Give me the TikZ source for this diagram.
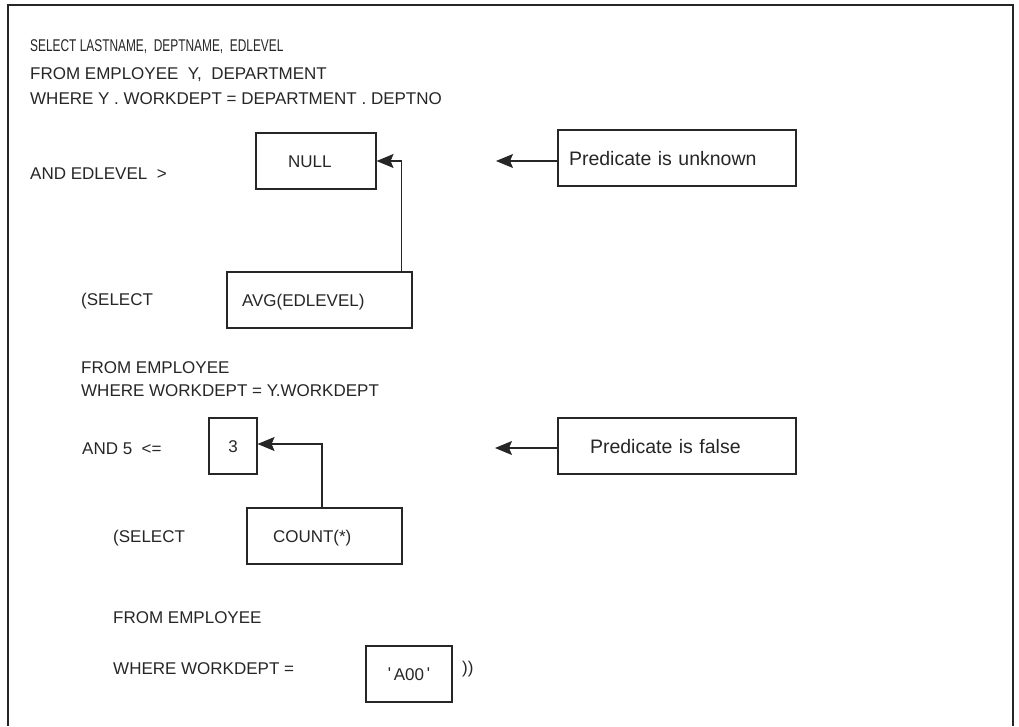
\documentclass[tikz,border=0pt]{standalone}
\usepackage{fontspec}
\setmainfont{Liberation Sans}
\usepackage{graphicx}
\usetikzlibrary{arrows.meta}
\definecolor{ink}{HTML}{262626}
\begin{document}
\begin{tikzpicture}[x=1pt,y=-1pt,
  fnt/.style={font=\fontsize{17}{20}\selectfont},
  txt/.style={fnt, anchor=west, inner sep=0pt, text height=12.2pt, text depth=0pt, text=ink},
  box/.style={fnt, draw=ink, line width=1.1pt, minimum height=56pt, text height=12.2pt, text depth=0pt, text=ink, inner ysep=0pt},
  note/.style={box, font=\fontsize{19.5}{22}\selectfont, text height=14pt},
  arr/.style={draw=ink, line width=1.1pt, -{Stealth[length=17pt,width=14pt,inset=3pt]}}]
\useasboundingbox (0,0) rectangle (1019,726);
% frame
\draw[ink, line width=1.8pt] (8,726) -- (8,5) -- (1013,5) -- (1013,726);

% main query text
\node[txt] (sel1) at (30,45) {\scalebox{0.7}[1]{SELECT LASTNAME,\ \ DEPTNAME,\ \ EDLEVEL}};
\node[txt] (from1) at (30,73.5) {FROM EMPLOYEE\ \ Y,\ \ DEPARTMENT};
\node[txt] (where1) at (30,98.5) {WHERE Y . WORKDEPT = DEPARTMENT . DEPTNO};
\node[txt] (and1) at (30,173) {AND EDLEVEL\ \ >};

\node[box, inner xsep=32pt, text width=56pt, align=left] (null) at (316,161) {NULL};
\node[note, inner xsep=11pt, text width=216pt, align=left] (unk) at (677,158) {Predicate is unknown};
\coordinate (u1) at (496,161);

\node[txt] (sel2) at (81,299) {(SELECT};
\node[box, inner xsep=15pt, text width=155pt, align=left] (avg) at (319.5,300) {AVG(EDLEVEL)};

\node[txt] (from2) at (81,367) {FROM EMPLOYEE};
\node[txt] (where2) at (81,390) {WHERE WORKDEPT = Y.WORKDEPT};

\node[txt] (and2) at (82,448) {AND 5\ \ <=};
\node[box, minimum width=48pt, inner xsep=0pt] (three) at (233,446) {3};
\node[note, inner xsep=32pt, text width=174pt, align=left] (fls) at (677,446) {Predicate is false};
\coordinate (f1) at (495,448);

\node[txt] (sel3) at (113,536) {(SELECT};
\node[box, inner xsep=26pt, text width=103pt, align=left] (count) at (324.5,536) {COUNT(*)};

\node[txt] (from3) at (113,617) {FROM EMPLOYEE};
\node[txt] (where3) at (113,668) {WHERE WORKDEPT =};
\node[box, minimum width=86pt, inner xsep=0pt] (a00) at (409,674) {\raisebox{1pt}{\textquotesingle}\,A00\,\raisebox{1pt}{\textquotesingle}};
\node[txt] (close) at (462,667) {))};

% connectors
\draw[arr] ([xshift=-11pt]avg.north east) |- (null.east);
\draw[arr] (unk.west |- u1) -- (u1);
\draw[arr] ([xshift=-2.5pt]count.north) |- ([yshift=2pt]three.east);
\draw[arr] (fls.west |- f1) -- (f1);
\end{tikzpicture}
\end{document}
